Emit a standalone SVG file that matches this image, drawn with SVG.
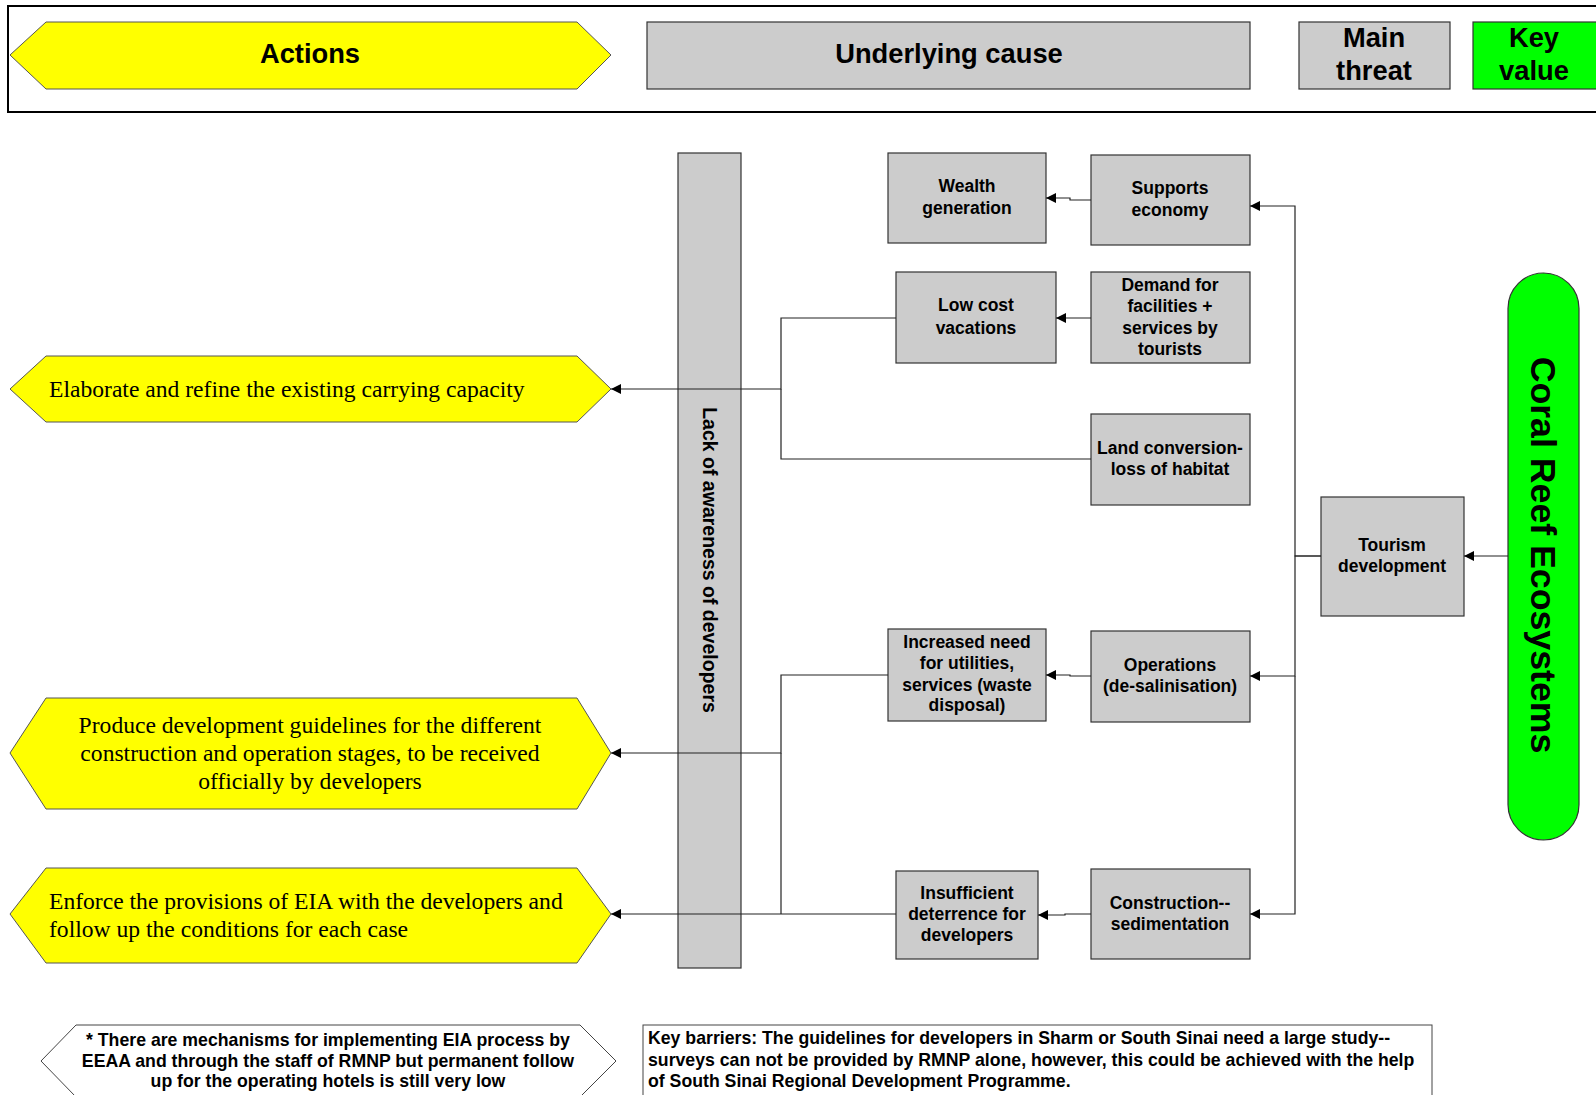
<svg xmlns="http://www.w3.org/2000/svg" width="1596" height="1095" viewBox="0 0 1596 1095">
<style>
.box{fill:#cccccc;stroke:#333;stroke-width:1.2}
.act{fill:#ffff00;stroke:#555;stroke-width:1}
.lbl{font-family:"Liberation Sans",Arial,sans-serif;font-weight:bold;font-size:17.5px;text-anchor:middle;fill:#000}
.hdr{font-family:"Liberation Sans",Arial,sans-serif;font-weight:bold;font-size:27.3px;text-anchor:middle;fill:#000}
.ser{font-family:"Liberation Serif","Times New Roman",serif;font-size:23.6px;fill:#000}
.note{font-family:"Liberation Sans",Arial,sans-serif;font-weight:bold;font-size:17.7px;fill:#000}
.con{fill:none;stroke:#222;stroke-width:1.2}
</style>
<defs>
<marker id="arr" viewBox="0 0 10 10" refX="10" refY="5" markerWidth="10" markerHeight="10" markerUnits="userSpaceOnUse" orient="auto">
<path d="M0,0 L10,5 L0,10 z" fill="#000"/>
</marker>
</defs>
<rect width="1596" height="1095" fill="#fff"/>

<g id="legend">
<rect x="8" y="6" width="1600" height="106" fill="#fff" stroke="#000" stroke-width="2"/>
<polygon class="act" points="10,55 46,22 577,22 611,55 577,89 46,89"/>
<text class="hdr" x="310" y="63">Actions</text>
<rect class="box" x="647" y="22" width="603" height="67"/>
<text class="hdr" x="949" y="63">Underlying cause</text>
<rect class="box" x="1299" y="22" width="151" height="67"/>
<text class="hdr" x="1374" y="47">Main</text>
<text class="hdr" x="1374" y="80">threat</text>
<rect x="1473" y="22" width="130" height="67" fill="#00ff00" stroke="#333" stroke-width="1.2"/>
<text class="hdr" x="1534" y="47">Key</text>
<text class="hdr" x="1534" y="80">value</text>
</g>

<g id="lack-awareness">
<rect class="box" x="678" y="153" width="63" height="815"/>
<text class="lbl" style="font-size:19.5px" transform="translate(703,560) rotate(90)" x="0" y="0">Lack of awareness of developers</text>
</g>

<g id="action1">
<polygon class="act" points="10,389 46,356 577,356 611,389 577,422 46,422"/>
<text class="ser" x="49" y="397">Elaborate and refine the existing carrying capacity</text>
</g>
<g id="action2">
<polygon class="act" points="10,753 46,698 577,698 611,753 577,809 46,809"/>
<text class="ser" text-anchor="middle" x="310" y="733">Produce development guidelines for the different</text>
<text class="ser" text-anchor="middle" x="310" y="761">construction and operation stages, to be received</text>
<text class="ser" text-anchor="middle" x="310" y="789">officially by developers</text>
</g>
<g id="action3">
<polygon class="act" points="10,914 46,868 577,868 611,914 577,963 46,963"/>
<text class="ser" x="49" y="909">Enforce the provisions of EIA with the developers and</text>
<text class="ser" x="49" y="937">follow up the conditions for each case</text>
</g>

<g id="wealth">
<rect class="box" x="888" y="153" width="158" height="90"/>
<text class="lbl" x="967" y="192">Wealth</text>
<text class="lbl" x="967" y="214">generation</text>
</g>
<g id="supports">
<rect class="box" x="1091" y="155" width="159" height="90"/>
<text class="lbl" x="1170" y="194">Supports</text>
<text class="lbl" x="1170" y="216">economy</text>
</g>
<g id="lowcost">
<rect class="box" x="896" y="272" width="160" height="91"/>
<text class="lbl" x="976" y="311">Low cost</text>
<text class="lbl" x="976" y="334">vacations</text>
</g>
<g id="demand">
<rect class="box" x="1091" y="272" width="159" height="91"/>
<text class="lbl" x="1170" y="291">Demand for</text>
<text class="lbl" x="1170" y="312">facilities +</text>
<text class="lbl" x="1170" y="334">services by</text>
<text class="lbl" x="1170" y="355">tourists</text>
</g>
<g id="land">
<rect class="box" x="1091" y="414" width="159" height="91"/>
<text class="lbl" x="1170" y="454">Land conversion-</text>
<text class="lbl" x="1170" y="475">loss of habitat</text>
</g>
<g id="tourism">
<rect class="box" x="1321" y="497" width="143" height="119"/>
<text class="lbl" x="1392" y="551">Tourism</text>
<text class="lbl" x="1392" y="572">development</text>
</g>
<g id="coral">
<rect x="1508" y="273" width="71" height="567" rx="35.5" ry="35.5" fill="#00ff00" stroke="#333" stroke-width="1.2"/>
<text class="lbl" style="font-size:35.7px" transform="translate(1531,555) rotate(90)" x="0" y="0">Coral Reef Ecosystems</text>
</g>
<g id="increased">
<rect class="box" x="888" y="629" width="158" height="92"/>
<text class="lbl" x="967" y="648">Increased need</text>
<text class="lbl" x="967" y="669">for utilities,</text>
<text class="lbl" x="967" y="691">services (waste</text>
<text class="lbl" x="967" y="711">disposal)</text>
</g>
<g id="operations">
<rect class="box" x="1091" y="631" width="159" height="91"/>
<text class="lbl" x="1170" y="671">Operations</text>
<text class="lbl" x="1170" y="692">(de-salinisation)</text>
</g>
<g id="insufficient">
<rect class="box" x="896" y="871" width="142" height="88"/>
<text class="lbl" x="967" y="899">Insufficient</text>
<text class="lbl" x="967" y="920">deterrence for</text>
<text class="lbl" x="967" y="941">developers</text>
</g>
<g id="construction">
<rect class="box" x="1091" y="869" width="159" height="90"/>
<text class="lbl" x="1170" y="909">Construction--</text>
<text class="lbl" x="1170" y="930">sedimentation</text>
</g>

<g id="connectors">
<path class="con" marker-end="url(#arr)" d="M1508,556 H1464"/>
<path class="con" marker-end="url(#arr)" d="M1321,556 H1295 V206 H1250"/>
<path class="con" marker-end="url(#arr)" d="M1321,556 H1295 V676 H1250"/>
<path class="con" marker-end="url(#arr)" d="M1295,676 V914 H1250"/>
<path class="con" marker-end="url(#arr)" d="M1091,200 H1070 V198 H1046"/>
<path class="con" marker-end="url(#arr)" d="M1091,318 H1056"/>
<path class="con" marker-end="url(#arr)" d="M1091,676 H1070 V675 H1046"/>
<path class="con" marker-end="url(#arr)" d="M1091,914 H1065 V915 H1038"/>
<path class="con" marker-end="url(#arr)" d="M896,318 H781 V389 H611"/>
<path class="con" d="M1091,459 H781 V389"/>
<path class="con" marker-end="url(#arr)" d="M888,675 H781 V753 H611"/>
<path class="con" d="M781,753 V914"/>
<path class="con" marker-end="url(#arr)" d="M896,914 H611"/>
</g>

<g id="note-eia">
<polygon points="41,1061 76,1025 580,1025 616,1061 580,1097 76,1097" fill="#fff" stroke="#444" stroke-width="1"/>
<text class="note" text-anchor="middle" x="328" y="1046">* There are mechanisms for implementing EIA process by</text>
<text class="note" text-anchor="middle" x="328" y="1067">EEAA and through the staff of RMNP but permanent follow</text>
<text class="note" text-anchor="middle" x="328" y="1087">up for the operating hotels is still very low</text>
</g>
<g id="key-barriers">
<rect x="643" y="1025" width="789" height="90" fill="#fff" stroke="#444" stroke-width="1"/>
<text class="note" x="648" y="1044">Key barriers: The guidelines for developers in Sharm or South Sinai need a large study--</text>
<text class="note" x="648" y="1066">surveys can not be provided by RMNP alone, however, this could be achieved with the help</text>
<text class="note" x="648" y="1087">of South Sinai Regional Development Programme.</text>
</g>
</svg>
